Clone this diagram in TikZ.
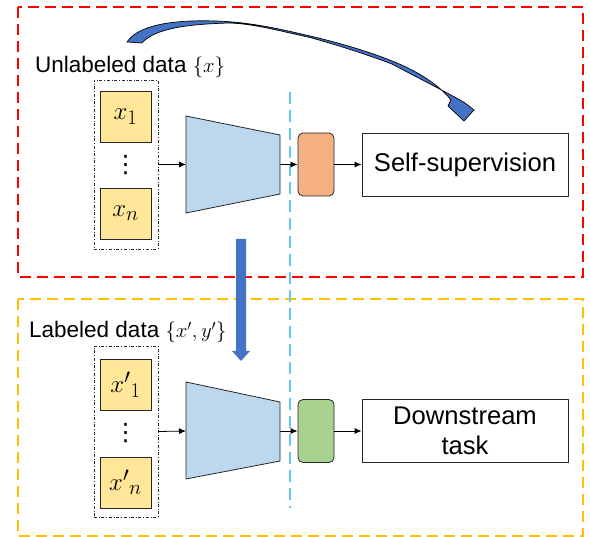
\documentclass[tikz,border=0pt]{standalone}
\usepackage{fontspec}
\setmainfont{Liberation Sans}
\newfontfamily\dvs{DejaVu Sans}
\usetikzlibrary{arrows.meta}
\definecolor{redb}{RGB}{255,0,0}
\definecolor{yelb}{RGB}{255,192,0}
\definecolor{cyanl}{RGB}{100,200,240}
\definecolor{encf}{RGB}{189,215,238}
\definecolor{orf}{RGB}{244,177,131}
\definecolor{grf}{RGB}{169,209,142}
\definecolor{inf}{RGB}{255,230,153}
\definecolor{arb}{RGB}{68,114,196}
\begin{document}
\begin{tikzpicture}[x=1pt,y=-1pt,
  region/.style={line width=1.3pt, dash pattern=on 11pt off 6pt},
  inbox/.style={draw=black!85, fill=inf, minimum width=51pt, minimum height=51pt, inner sep=0pt, line width=0.8pt, font=\fontsize{29}{34}\selectfont},
  group/.style={draw=black!85, dash dot, line width=0.8pt, minimum width=64pt, minimum height=169pt, inner sep=0pt},
  headbox/.style={draw=black!85, rounded corners=5pt, minimum width=36pt, minimum height=63pt, inner sep=0pt, line width=0.8pt},
  taskbox/.style={draw=black!85, minimum width=206pt, minimum height=63pt, inner sep=0pt, align=center, font=\fontsize{25.6}{30}\selectfont, line width=0.8pt},
  conn/.style={-{Latex[length=7pt,width=6pt]}, line width=0.8pt},
  lab/.style={font=\fontsize{22.5}{27}\selectfont, anchor=base west, inner sep=0pt},
  enc/.style={draw=black!85, fill=encf, line width=0.8pt},
  dotsnode/.style={font=\dvs\fontsize{24}{26}\selectfont, inner sep=0pt}
]
\useasboundingbox (0,0) rectangle (590,537);
% regions
\draw[region, draw=redb] (18,7) rectangle (583,277);
\draw[region, draw=yelb] (18,299) rectangle (583,536);
\draw[draw=cyanl, line width=1.2pt, dash pattern=on 12pt off 6pt] (290,92) -- (290,508);

% top branch
\node[lab] (ulab) at (35,73) {Unlabeled data $\{x\}$};
\node[group] (g1) at (126,164.5) {};
\node[inbox] (x1) at (125.5,116.5) {$x_1$};
\node[inbox] (xn) at (125.5,213.5) {$x_n$};
\node[dotsnode] (d1) at (125.5,165) {⋮};
\coordinate (e1tl) at (186,116); \coordinate (e1tr) at (280,135);
\coordinate (e1br) at (280,194); \coordinate (e1bl) at (186,213);
\draw[enc] (e1tl) -- (e1tr) -- (e1br) -- (e1bl) -- cycle;
\coordinate (e1l) at (186,164.5); \coordinate (e1r) at (280,164.5);
\node[headbox, fill=orf] (h1) at (316,164.5) {};
\node[taskbox] (t1) at (465,164.5) {Self-supervision};
\draw[conn] (g1.east) -- (e1l);
\draw[conn] (e1r) -- (h1.west);
\draw[conn] (h1.east) -- (t1.west);

% bottom branch
\node[lab] (llab) at (29,338) {Labeled data $\{x',y'\}$};
\node[group, minimum height=171pt] (g2) at (126,431.5) {};
\node[inbox] (y1) at (125.5,385) {$x'{}_1$};
\node[inbox] (yn) at (125.5,482.5) {$x'{}_n$};
\node[dotsnode] (d2) at (125.5,433) {⋮};
\coordinate (e2tl) at (186,382); \coordinate (e2tr) at (280,402);
\coordinate (e2br) at (280,461); \coordinate (e2bl) at (186,479);
\draw[enc] (e2tl) -- (e2tr) -- (e2br) -- (e2bl) -- cycle;
\coordinate (e2l) at (186,431); \coordinate (e2r) at (280,431);
\node[headbox, fill=grf] (h2) at (316,431) {};
\node[taskbox] (t2) at (465,431) {Downstream\\task};
\draw[conn] (g2.east) -- (e2l);
\draw[conn] (e2r) -- (h2.west);
\draw[conn] (h2.east) -- (t2.west);

% curved ribbon arrow
\filldraw[fill=arb, draw=black, line width=0.7pt, line join=miter]
  (127,42) .. controls (140,22) and (185,20) .. (215,21)
  .. controls (250,22) and (280,29) .. (310,36)
  .. controls (340,43) and (370,52) .. (392,61)
  .. controls (418,71) and (440,86) .. (451,100)
  -- (448,106) -- (464,121) -- (474,110) -- (465,103)
  .. controls (450,94) and (422,80) .. (392,64)
  .. controls (360,52) and (330,43) .. (310,37.5)
  .. controls (280,31) and (255,24) .. (230,23)
  .. controls (190,24) and (155,28) .. (142,43) -- cycle;

% transfer arrow
\fill[arb] (236,239) -- (246,239) -- (246,351) -- (250,351) -- (241,361) -- (232,351) -- (236,351) -- cycle;
\end{tikzpicture}
\end{document}
